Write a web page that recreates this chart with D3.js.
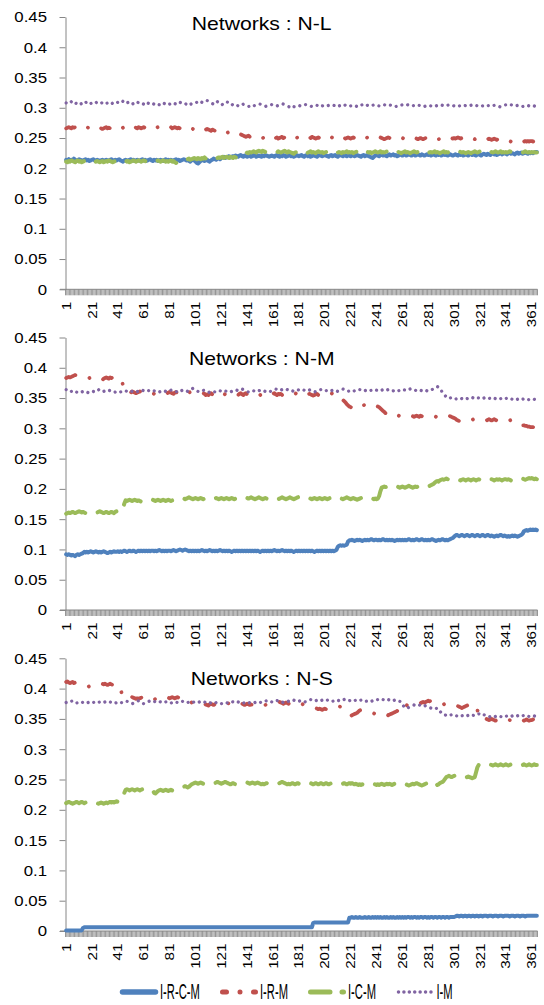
<!DOCTYPE html>
<html><head><meta charset="utf-8">
<script src="https://cdn.jsdelivr.net/npm/d3@7"></script>
<style>body{margin:0;background:#fff}</style>
</head><body>
<svg id="chart" width="544" height="1005"></svg>
<script>
// ---------- DATA ----------
const categories = d3.range(1, 366);
const xTickLabels = ["1","21","41","61","81","101","121","141","161","181","201","221","241","261","281","301","321","341","361"];
const yTickValues = [0,0.05,0.1,0.15,0.2,0.25,0.3,0.35,0.4,0.45];
const yTickLabels = ["0","0.05","0.1","0.15","0.2","0.25","0.3","0.35","0.4","0.45"];
const seriesNames = ["I-R-C-M","I-R-M","I-C-M","I-M"];
const panelTitles = ["Networks : N-L","Networks : N-M","Networks : N-S"];

// values in thousandths
const nl_ircm = [
214,213,215,212,214,213,216,214,212,213,215,214,213,212,214,215,213,214,212,213,
214,215,213,212,214,213,212,213,214,212,213,214,213,212,214,215,213,212,214,213,
214,215,213,212,211,213,214,212,213,214,215,213,214,212,213,214,213,212,214,215,
213,214,212,213,214,215,213,212,214,213,214,212,213,214,213,212,214,215,213,214,
213,214,212,213,214,215,213,214,212,213,214,215,214,213,214,212,211,213,214,213,
211,209,208,210,212,213,214,212,213,214,212,211,213,214,216,215,214,216,217,215,
217,218,219,217,218,219,220,218,219,220,219,221,220,219,221,222,220,219,221,220,
219,220,221,219,220,222,221,219,220,221,220,219,221,220,222,221,220,219,220,221,
220,219,221,222,220,219,221,220,222,221,219,220,221,222,220,221,219,220,222,221,
220,221,222,220,219,221,222,220,221,219,220,222,221,220,219,221,222,221,220,221,
222,221,220,219,221,222,220,221,222,220,219,221,222,221,220,222,221,220,222,221,
220,222,221,220,221,222,221,220,219,221,222,220,221,222,220,219,218,217,219,221,
222,221,220,222,223,221,222,221,220,222,223,221,222,223,221,222,220,221,223,222,
221,222,223,221,222,223,222,221,222,223,221,222,223,222,221,223,222,221,222,223,
222,223,221,222,223,222,221,223,222,223,221,222,223,222,223,221,222,223,222,221,
222,223,222,221,223,222,223,221,222,223,222,221,223,224,222,223,222,221,223,224,
222,221,223,224,223,222,224,223,222,224,225,223,224,222,223,224,225,223,224,225,
224,223,225,226,224,225,224,223,225,226,224,225,226,224,225,226,225,224,226,225,
226,225,226,227,227];
const nl_irm = [
266,267,268,267,266,268,267,268,267,266,267,268,267,266,268,267,268,267,266,267,
268,267,266,267,268,266,267,266,265,266,267,268,266,267,266,267,268,267,266,267,
266,267,268,266,267,268,267,266,268,267,266,268,269,268,267,266,268,267,266,267,
268,267,266,267,268,267,266,267,268,266,267,268,267,266,267,268,267,266,267,268,
267,268,266,267,268,267,266,267,266,265,266,267,266,265,266,267,265,266,265,264,
265,266,264,265,266,265,264,263,264,265,264,263,262,264,263,262,263,261,262,263,
262,261,260,261,260,259,260,258,259,258,257,258,257,256,257,256,255,254,253,252,
253,254,252,253,252,251,252,253,252,251,252,251,250,251,252,251,250,251,252,250,
251,252,250,251,249,250,251,252,250,251,250,249,251,250,252,251,250,249,250,251,
250,251,252,250,251,250,249,250,251,250,252,251,250,249,250,251,250,249,251,250,
251,250,249,250,251,252,250,251,250,249,250,251,250,252,251,250,249,250,251,250,
249,250,251,250,249,250,251,250,249,251,250,249,250,251,250,249,250,251,252,251,
250,249,250,251,250,249,248,249,250,251,250,249,250,251,250,249,250,249,248,249,
250,249,248,249,250,251,250,249,248,249,250,249,248,249,250,249,248,249,250,249,
248,249,250,249,248,249,250,249,248,249,250,251,250,249,250,249,248,249,250,249,
250,249,250,251,250,249,250,249,248,249,250,249,248,249,250,249,248,249,248,249,
250,249,248,249,250,249,248,249,248,247,248,249,248,247,248,247,246,247,246,245,
244,243,244,245,244,243,244,245,244,245,246,245,244,245,244,245,244,245,244,245,
245,244,245,244,245];
const nl_icm = [
211,210,212,211,213,212,211,210,212,213,211,212,210,211,212,211,213,212,211,210,
211,212,210,211,212,211,210,211,212,210,211,212,211,213,212,211,210,211,212,211,
212,211,213,212,211,212,213,211,212,210,211,212,213,212,211,212,213,212,211,212,
213,212,211,212,213,212,211,212,213,211,212,213,212,211,212,213,212,211,212,211,
212,213,211,212,210,209,207,208,210,211,212,213,212,214,215,216,214,215,216,217,
216,215,217,216,215,217,216,218,216,215,217,216,215,216,217,218,216,217,218,217,
218,219,217,218,219,218,217,219,218,217,219,218,217,216,215,217,219,221,223,225,
226,225,227,226,227,228,227,226,228,229,228,227,229,228,227,228,227,226,225,226,
227,228,227,226,228,227,226,227,228,229,227,226,228,227,226,225,224,226,227,228,
227,226,227,228,226,227,225,226,227,228,226,227,226,225,227,228,227,226,227,225,
226,227,228,226,227,228,227,226,227,228,226,227,226,225,227,226,227,228,226,227,
226,227,225,226,227,228,226,227,226,225,227,228,226,227,226,227,225,226,227,228,
227,226,227,228,226,227,226,227,228,227,226,225,227,226,227,228,226,227,226,225,
226,227,228,226,227,226,225,226,227,228,227,226,227,228,226,227,226,225,226,227,
228,226,227,226,227,228,226,227,226,225,226,227,228,226,227,226,227,228,226,227,
226,225,226,227,228,227,226,227,226,225,226,227,226,225,226,227,228,227,226,227,
228,226,227,228,227,226,227,228,226,227,226,227,228,227,226,227,228,226,227,226,
227,226,227,228,227,226,227,226,227,228,227,226,227,226,227,228,227,226,227,226,
227,226,227,226,226];
const nl_im = [
308,307,309,308,310,307,306,308,307,309,308,306,307,309,308,310,307,306,305,307,
308,309,307,308,310,309,308,307,309,310,308,307,308,309,307,306,308,309,310,308,
309,307,308,309,311,308,307,308,309,310,308,306,307,309,308,307,310,309,308,307,
306,304,306,308,307,309,308,307,306,305,307,306,305,307,306,308,307,306,308,307,
306,307,308,309,307,306,308,307,309,308,307,306,305,307,306,304,305,307,306,307,
308,309,307,308,310,309,308,310,311,312,311,310,308,307,306,305,308,310,311,309,
307,305,306,308,310,309,307,305,304,306,305,304,305,303,304,305,304,306,305,304,
303,302,303,304,305,303,304,305,306,307,306,305,304,303,302,303,304,305,306,305,
304,303,302,303,304,305,306,307,306,305,304,303,302,301,303,304,302,301,302,303,
304,303,302,303,304,305,306,305,304,303,302,303,304,305,304,303,302,301,303,304,
305,304,303,304,305,306,305,304,303,302,301,303,304,305,304,303,305,306,305,304,
303,304,305,304,303,302,301,303,304,305,306,307,305,304,303,302,303,304,305,304,
303,304,303,302,303,304,305,304,303,304,305,304,303,304,303,302,303,304,303,304,
305,304,303,304,305,304,303,302,303,304,303,304,305,304,303,304,303,302,303,304,
305,304,303,304,305,304,303,304,303,304,305,304,303,302,303,304,305,304,303,304,
303,304,305,304,303,304,305,304,303,304,305,304,303,304,305,304,303,304,303,304,
305,304,303,304,303,302,303,304,305,304,303,304,305,304,303,302,301,302,303,304,
305,304,303,304,305,304,303,302,303,304,305,304,303,302,303,304,305,304,303,302,
303,304,303,302,303];

const nm_ircm = [
92,91,92,91,90,91,90,89,91,92,91,92,93,94,96,95,96,95,96,97,
96,95,96,97,96,95,96,95,96,97,96,95,94,95,96,95,96,97,96,96,
97,96,97,96,97,98,97,96,97,98,97,97,98,97,96,97,98,97,98,97,
98,97,98,97,98,97,98,98,97,98,97,98,99,98,97,98,97,98,97,98,
98,97,98,99,98,97,98,99,100,99,98,99,100,99,98,97,98,97,98,97,
98,97,98,97,98,99,98,97,98,97,98,99,98,97,98,97,98,97,98,99,
98,97,98,97,98,97,98,97,96,97,98,97,98,97,98,97,98,97,98,97,
98,97,98,97,98,97,98,97,98,97,96,97,98,97,98,97,98,97,98,97,
98,99,98,97,98,97,98,99,98,97,98,97,98,97,98,97,96,97,98,97,
98,97,98,97,98,97,98,97,98,97,98,97,96,97,98,97,98,97,98,97,
98,97,98,97,98,97,98,97,98,99,104,106,107,106,107,106,107,108,113,115,
115,116,115,114,115,116,115,116,115,114,115,116,115,116,115,116,117,116,115,116,
116,115,116,115,116,117,116,115,116,115,116,115,116,115,114,115,116,115,116,115,
116,115,116,115,116,117,116,115,116,115,116,117,116,115,116,117,116,115,116,115,
116,115,116,117,116,115,114,115,116,115,116,117,116,115,116,115,116,117,118,119,
121,123,124,123,122,123,124,123,122,123,124,123,122,123,124,123,122,123,124,123,
122,123,124,123,122,123,124,123,122,123,122,121,122,123,122,123,124,123,122,123,
122,121,122,121,122,123,122,123,122,121,122,123,124,126,130,131,132,131,132,133,
132,133,132,133,132];
const nm_irm = [
383,384,385,384,385,386,387,388,387,386,385,384,385,384,383,384,383,382,383,384,
383,384,385,384,383,382,381,379,380,382,383,384,383,382,384,383,384,383,382,383,
384,383,382,381,370,362,360,361,362,360,359,361,360,359,358,359,360,361,360,359,
360,359,358,359,360,361,359,358,357,358,359,360,359,358,359,360,361,359,358,359,
360,359,358,357,359,360,358,357,358,356,355,354,355,357,358,359,360,359,358,359,
360,359,358,357,356,357,358,357,355,356,355,357,358,356,355,357,356,358,359,357,
358,359,357,356,358,357,356,355,354,355,356,355,354,355,357,358,356,355,357,358,
356,355,354,356,357,358,357,356,355,354,355,356,357,355,354,356,357,358,357,356,
357,358,356,355,357,356,357,355,354,356,355,354,355,356,357,356,357,358,357,356,
357,356,355,356,357,358,356,355,357,356,355,354,355,356,357,355,356,357,355,356,
357,356,357,356,357,358,357,356,357,358,357,356,351,349,347,345,343,340,338,336,
335,334,336,335,337,336,337,338,337,339,338,339,340,339,340,338,339,340,339,338,
337,336,335,333,331,329,327,325,323,322,321,320,321,319,318,319,320,321,320,319,
320,321,320,321,320,319,320,321,320,319,320,321,320,319,321,320,319,320,321,320,
321,320,319,320,321,320,319,320,321,320,321,322,321,320,319,320,321,320,319,318,
317,316,314,313,312,313,312,311,312,313,312,311,312,313,314,315,314,315,314,315,
314,315,314,315,314,313,314,315,314,313,314,315,314,313,314,313,314,313,314,315,
314,315,314,313,314,314,313,314,314,313,312,310,307,305,305,304,304,303,303,302,
302,302,301,302,301];
const nm_icm = [
159,160,161,160,161,162,161,160,161,162,163,162,161,162,161,160,159,160,161,162,
161,160,161,162,161,162,163,162,161,160,161,162,161,160,161,162,161,160,162,163,
164,162,161,163,168,176,181,180,181,182,181,180,181,182,181,180,181,180,179,180,
181,180,181,182,181,180,181,182,181,180,181,182,181,180,181,182,181,180,181,182,
181,180,181,182,183,182,183,184,183,184,185,184,183,184,185,186,185,184,183,184,
185,184,183,184,185,184,183,184,185,184,183,184,185,184,183,184,185,184,183,184,
185,184,183,184,185,184,183,184,185,184,183,184,185,184,183,184,185,184,183,184,
185,184,185,186,185,184,183,184,185,186,185,184,183,184,185,184,183,184,185,184,
185,186,185,184,183,184,185,186,185,184,183,184,185,186,185,184,183,184,185,186,
187,186,185,184,185,184,183,184,185,184,183,184,185,184,183,184,185,184,183,184,
185,184,183,184,185,184,183,184,185,184,183,184,185,184,183,184,185,186,185,184,
183,184,185,184,183,182,183,184,185,184,183,182,183,184,183,184,185,184,183,184,
183,184,188,196,202,203,204,203,204,203,204,205,204,203,204,203,204,203,202,203,
204,203,202,203,204,205,204,203,202,203,204,203,204,205,204,203,204,203,204,205,
204,205,206,207,208,210,212,213,212,214,215,216,215,216,217,216,215,216,215,216,
215,216,217,216,215,214,215,216,215,214,215,216,215,214,215,216,215,214,215,216,
215,216,215,214,215,216,217,216,215,216,215,214,215,216,215,216,215,214,215,216,
216,215,216,215,214,215,216,215,216,217,216,215,216,217,216,215,216,217,218,217,
218,217,216,217,216];
const nm_im = [
364,363,362,363,361,362,360,361,360,359,360,361,360,361,362,361,360,359,360,361,
362,361,360,361,363,364,362,361,360,361,362,363,362,363,362,361,360,359,360,361,
362,361,360,361,362,363,362,361,360,361,362,361,362,363,362,361,360,361,362,363,
362,361,362,363,362,361,360,361,362,361,360,361,360,361,362,363,362,361,360,361,
362,363,364,363,362,361,360,359,361,362,363,364,363,362,361,363,364,365,366,364,
363,362,361,360,361,362,363,362,361,360,359,360,361,362,361,360,361,362,363,362,
361,360,361,362,361,360,359,360,361,362,363,364,363,362,363,364,365,364,363,362,
361,360,361,362,363,362,361,360,361,362,363,364,363,362,361,360,359,360,361,362,
363,364,365,364,363,362,363,364,365,366,365,364,363,364,363,362,361,362,363,364,
363,362,363,364,363,362,361,362,363,364,363,362,361,360,361,362,363,364,363,362,
361,362,363,362,361,362,363,364,363,362,361,362,363,364,365,364,363,362,361,362,
361,362,361,362,361,362,363,364,363,362,361,362,363,364,363,362,363,364,363,362,
363,362,363,362,363,364,363,362,363,364,363,362,361,362,363,362,361,362,363,364,
363,364,363,362,363,364,365,364,363,364,363,362,361,362,363,362,361,362,363,362,
363,364,365,364,366,367,368,369,368,366,363,359,356,354,352,350,349,350,351,350,
349,348,349,350,351,350,349,350,351,350,349,350,351,352,351,350,349,350,351,350,
351,350,349,350,351,350,349,350,349,350,351,350,349,348,349,350,349,350,349,350,
349,350,351,350,349,348,349,350,349,348,349,350,349,348,349,348,349,348,347,348,
348,347,348,347,347];

const ns_ircm = [
1,1,1,1,1,1,1,1,1,1,1,1,1,5,6,6,6,6,6,6,
6,6,6,6,6,6,6,6,6,6,6,6,6,6,6,6,6,6,6,6,
6,6,6,6,6,6,6,6,6,6,6,6,6,6,6,6,6,6,6,6,
6,6,6,6,6,6,6,6,6,6,6,6,6,6,6,6,6,6,6,6,
6,6,6,6,6,6,6,6,6,6,6,6,6,6,6,6,6,6,6,6,
6,6,6,6,6,6,6,6,6,6,6,6,6,6,6,6,6,6,6,6,
6,6,6,6,6,6,6,6,6,6,6,6,6,6,6,6,6,6,6,6,
6,6,6,6,6,6,6,6,6,6,6,6,6,6,6,6,6,6,6,6,
6,6,6,6,6,6,6,6,6,6,6,6,6,6,6,6,6,6,6,6,
6,6,6,6,6,6,6,6,6,6,6,13,14,14,14,14,14,14,14,14,
14,14,14,14,14,14,14,14,14,14,14,14,14,14,14,14,14,14,14,22,
22,23,22,22,23,22,22,23,22,22,22,23,22,22,23,22,22,23,22,23,
22,23,22,23,22,22,23,22,23,22,22,23,22,23,22,22,23,22,23,22,
23,22,23,22,23,23,22,23,22,23,23,22,23,22,23,23,22,23,23,22,
23,22,23,23,22,23,23,22,23,23,22,23,23,22,23,23,22,23,23,23,
23,24,25,25,24,25,25,24,25,25,24,25,25,24,25,25,24,25,25,24,
25,25,24,25,25,25,24,25,25,25,24,25,25,25,24,25,25,25,24,25,
25,25,25,24,25,25,25,24,25,25,25,24,25,25,25,24,25,25,25,25,
25,25,25,25,25];
const ns_irm = [
411,412,410,409,410,411,409,410,409,408,407,406,405,404,403,404,403,403,404,405,
406,407,408,409,408,407,408,409,408,407,408,407,406,407,408,407,406,407,406,407,
407,406,400,392,386,385,386,384,385,384,385,386,385,384,383,384,383,384,385,386,
387,388,387,386,387,386,384,383,382,383,384,385,386,387,386,385,386,387,386,385,
384,385,386,385,384,385,386,385,384,385,384,383,381,379,378,377,376,377,376,375,
376,375,374,373,374,375,374,373,374,373,372,374,375,374,373,374,375,376,375,374,
375,376,375,374,375,376,375,376,377,376,375,376,377,376,375,374,375,374,373,374,
375,374,373,374,373,372,373,374,373,372,371,372,373,372,373,374,373,374,375,376,
377,378,377,376,377,378,377,376,375,376,377,376,375,374,375,374,373,374,375,376,
375,374,375,374,373,372,373,372,371,372,371,370,369,368,367,366,367,366,365,366,
367,366,367,368,369,370,369,370,369,370,370,371,370,368,365,362,360,358,357,356,
355,356,357,358,359,360,362,364,365,364,365,366,365,364,363,362,361,360,359,358,
357,356,355,356,357,358,359,358,357,356,357,358,359,360,361,362,363,368,373,376,
377,376,374,373,372,371,372,371,372,373,374,375,376,377,376,377,378,377,378,379,
380,379,380,379,378,377,376,377,376,375,374,375,374,375,374,373,374,375,374,373,
374,373,372,371,370,369,368,369,370,371,372,373,374,375,374,373,374,372,365,355,
351,350,349,348,349,350,349,348,349,350,349,348,347,348,349,348,349,350,349,348,
349,350,349,348,347,348,349,348,347,346,347,348,349,348,347,348,349,348,347,348,
348,349,348,347,348];
const ns_icm = [
211,212,213,212,211,210,211,212,213,212,211,212,213,212,211,212,213,212,211,210,
211,212,213,212,211,210,211,212,211,210,211,212,211,212,213,212,213,212,213,214,
213,214,213,214,220,228,233,234,233,232,233,234,233,232,233,234,233,232,233,234,
233,234,233,232,233,234,233,232,228,227,229,231,232,233,232,231,232,233,232,231,
232,233,232,231,232,233,234,236,237,238,237,238,239,238,237,238,240,242,243,244,
245,244,243,244,245,244,243,242,243,244,243,244,245,244,243,244,245,246,245,244,
243,244,245,246,245,244,243,242,243,244,243,242,243,244,243,244,245,244,243,244,
245,244,243,244,245,244,243,244,245,244,243,242,243,242,243,244,243,242,243,244,
243,242,243,244,243,244,245,246,245,244,243,242,243,242,243,244,243,242,243,244,
243,242,243,244,243,244,243,242,243,244,243,242,243,244,243,242,243,244,243,242,
243,244,243,242,243,244,243,242,241,242,243,244,243,242,243,244,243,242,243,244,
243,244,243,242,243,242,241,242,241,242,241,240,241,242,241,242,241,242,243,242,
241,242,241,242,243,242,241,242,243,242,243,242,241,242,243,242,241,242,243,242,
241,242,243,242,241,240,241,242,243,242,243,244,243,242,241,240,241,242,243,244,
243,241,240,242,244,245,243,241,242,244,245,246,248,251,254,255,256,255,254,255,
256,257,256,255,254,255,256,255,254,253,254,255,254,253,252,253,254,262,270,274,
275,274,273,274,275,274,273,274,275,274,273,274,275,274,273,274,275,274,273,274,
275,274,273,274,275,276,275,274,273,274,275,274,273,274,275,274,273,274,275,274,
273,274,275,274,274];
const ns_im = [
377,378,377,378,379,380,378,377,376,377,378,379,378,377,378,377,376,377,378,377,
376,377,378,377,376,377,378,377,376,377,378,377,376,377,378,377,376,375,376,377,
378,377,376,377,378,379,380,379,378,377,376,375,376,377,378,379,380,378,377,376,
375,376,377,378,379,380,381,380,379,378,377,378,379,378,377,376,377,378,379,378,
377,376,377,378,379,378,377,378,379,380,379,378,377,376,377,378,379,378,377,378,
379,378,377,378,379,380,379,378,377,378,377,376,377,378,377,376,377,378,377,376,
375,376,377,378,377,376,377,378,379,378,377,376,377,378,377,376,375,376,377,376,
375,376,377,376,375,376,377,378,377,376,377,378,379,378,379,380,381,380,379,378,
377,378,379,380,381,380,379,378,377,378,379,380,379,378,379,380,381,380,379,378,
379,380,381,380,379,378,379,380,381,382,381,380,379,380,381,380,379,380,381,380,
379,380,381,382,381,380,379,380,381,382,381,380,379,380,381,382,381,382,381,380,
381,382,381,380,381,382,381,380,381,382,381,380,379,380,381,380,379,380,381,380,
381,382,381,380,381,382,381,380,381,382,381,382,381,380,381,382,381,380,379,378,
374,371,369,367,368,369,370,371,372,373,372,371,372,373,372,371,370,371,372,371,
370,369,368,367,366,366,367,368,366,363,360,358,357,356,357,356,357,356,357,356,
357,356,355,356,355,354,355,356,355,354,355,356,355,354,355,356,355,356,357,358,
360,359,358,357,356,355,354,353,354,353,352,353,354,353,352,353,354,353,352,353,
354,355,356,355,354,355,356,355,354,355,356,355,354,355,356,355,356,355,354,355,
355,356,355,354,355];

// ---------- DRAWING ----------
const FONT = "'Liberation Sans', Arial, sans-serif";
const colors = ["#4F81BD", "#C0504D", "#9BBB59", "#8064A2"];
const widths = [4, 3.75, 4, 3.2];
const dashes = [null, [8.75, 13.25, 0.01, 13.25], [18.5, 12], [0.01, 5.5]];
const panels = [
  {title: panelTitles[0], data: [nl_ircm, nl_irm, nl_icm, nl_im], top: 17, bottom: 289.3, titleY: 30},
  {title: panelTitles[1], data: [nm_ircm, nm_irm, nm_icm, nm_im], top: 337.5, bottom: 610, titleY: 365},
  {title: panelTitles[2], data: [ns_ircm, ns_irm, ns_icm, ns_im], top: 658.3, bottom: 931, titleY: 685}
];

const svg = d3.select("#chart");
const x = d3.scaleBand().domain(categories).range([65.5, 537.5]).padding(0);
const bw = x.bandwidth();
const bounds = categories.map(c => x(c)).concat([x.range()[1]]);

panels.forEach(p => {
  const y = d3.scaleLinear().domain([0, 0.45]).range([p.bottom, p.top]);
  const g = svg.append("g");

  // dense category ticks
  g.append("g").selectAll("line").data(bounds).join("line")
    .attr("x1", d => d).attr("x2", d => d)
    .attr("y1", p.bottom).attr("y2", p.bottom + 6)
    .attr("stroke", "#8a8a8a").attr("stroke-width", 0.9);
  g.append("line").attr("x1", 60).attr("x2", 537.5)
    .attr("y1", p.bottom).attr("y2", p.bottom)
    .attr("stroke", "#868686").attr("stroke-width", 1);

  // y axis
  const ya = g.append("g").attr("transform", "translate(65.5,0)")
    .call(d3.axisLeft(y).tickValues(yTickValues).tickSize(6).tickSizeOuter(0)
      .tickFormat((d, i) => yTickLabels[i]));
  ya.attr("font-size", 14).attr("font-family", FONT);
  ya.select(".domain").attr("stroke", "#868686");
  ya.selectAll(".tick line").attr("stroke", "#868686");
  ya.selectAll(".tick text").attr("x", -18.5 / 1.2).attr("transform", "scale(1.2,1)")
    .attr("fill", "#000").attr("dy", "0.35em");

  // x labels
  g.append("g").selectAll("text").data(xTickLabels).join("text")
    .attr("transform", d => `translate(${x(+d) + bw / 2},${p.bottom + 12.5}) rotate(-90) scale(1.17,1)`)
    .attr("text-anchor", "end").attr("dy", "0.35em")
    .attr("font-size", 13).attr("font-family", FONT).attr("fill", "#000")
    .text(d => d);

  // series
  p.data.forEach((arr, si) => {
    const line = d3.line().x((d, i) => x(categories[i]) + bw / 2).y(d => y(d / 1000));
    const path = g.append("path").datum(arr).attr("d", line)
      .attr("fill", "none").attr("stroke", colors[si]).attr("stroke-width", widths[si])
      .attr("stroke-linecap", "round").attr("stroke-linejoin", "round");
    if (dashes[si]) {
      const L = path.node().getTotalLength();
      const H = x(categories[arr.length - 1]) - x(categories[0]);
      const k = L / H;
      path.attr("stroke-dasharray", dashes[si].map(v => v * k).join(" "));
    }
  });

  // title
  g.append("text").attr("transform", `translate(261.7,${p.titleY}) scale(1.176,1)`)
    .attr("text-anchor", "middle").attr("font-size", 18).attr("font-family", FONT)
    .attr("fill", "#000").text(p.title);
});

// legend
const lg = svg.append("g");
const ly = 992;
const legendItems = [
  {x1: 122.5, x2: 155.5, w: 5.5, dash: null, tx: 160},
  {x1: 222.5, x2: 255.5, w: 5, dash: "4 13.5 0.01 13.5", tx: 260},
  {x1: 310.5, x2: 343.5, w: 5, dash: "19.5 12", tx: 348},
  {x1: 398.5, x2: 432, w: 3.5, dash: "0.01 5.4", tx: 436.5}
];
legendItems.forEach((it, i) => {
  lg.append("line").attr("x1", it.x1).attr("x2", it.x2).attr("y1", ly).attr("y2", ly)
    .attr("stroke", colors[i]).attr("stroke-width", it.w).attr("stroke-linecap", "round")
    .attr("stroke-dasharray", it.dash);
  lg.append("text").attr("transform", `translate(${it.tx},999) scale(0.56,1.1)`)
    .attr("font-size", 20).attr("font-family", FONT).attr("fill", "#000")
    .text(seriesNames[i]);
});

// sanity check
const bad = [];
panels.forEach(p => p.data.forEach((a, i) => { if (a.length !== 365) bad.push(p.title + " " + seriesNames[i] + ":" + a.length); }));
if (bad.length) throw new Error("length mismatch " + bad.join(", "));
</script>
</body></html>
